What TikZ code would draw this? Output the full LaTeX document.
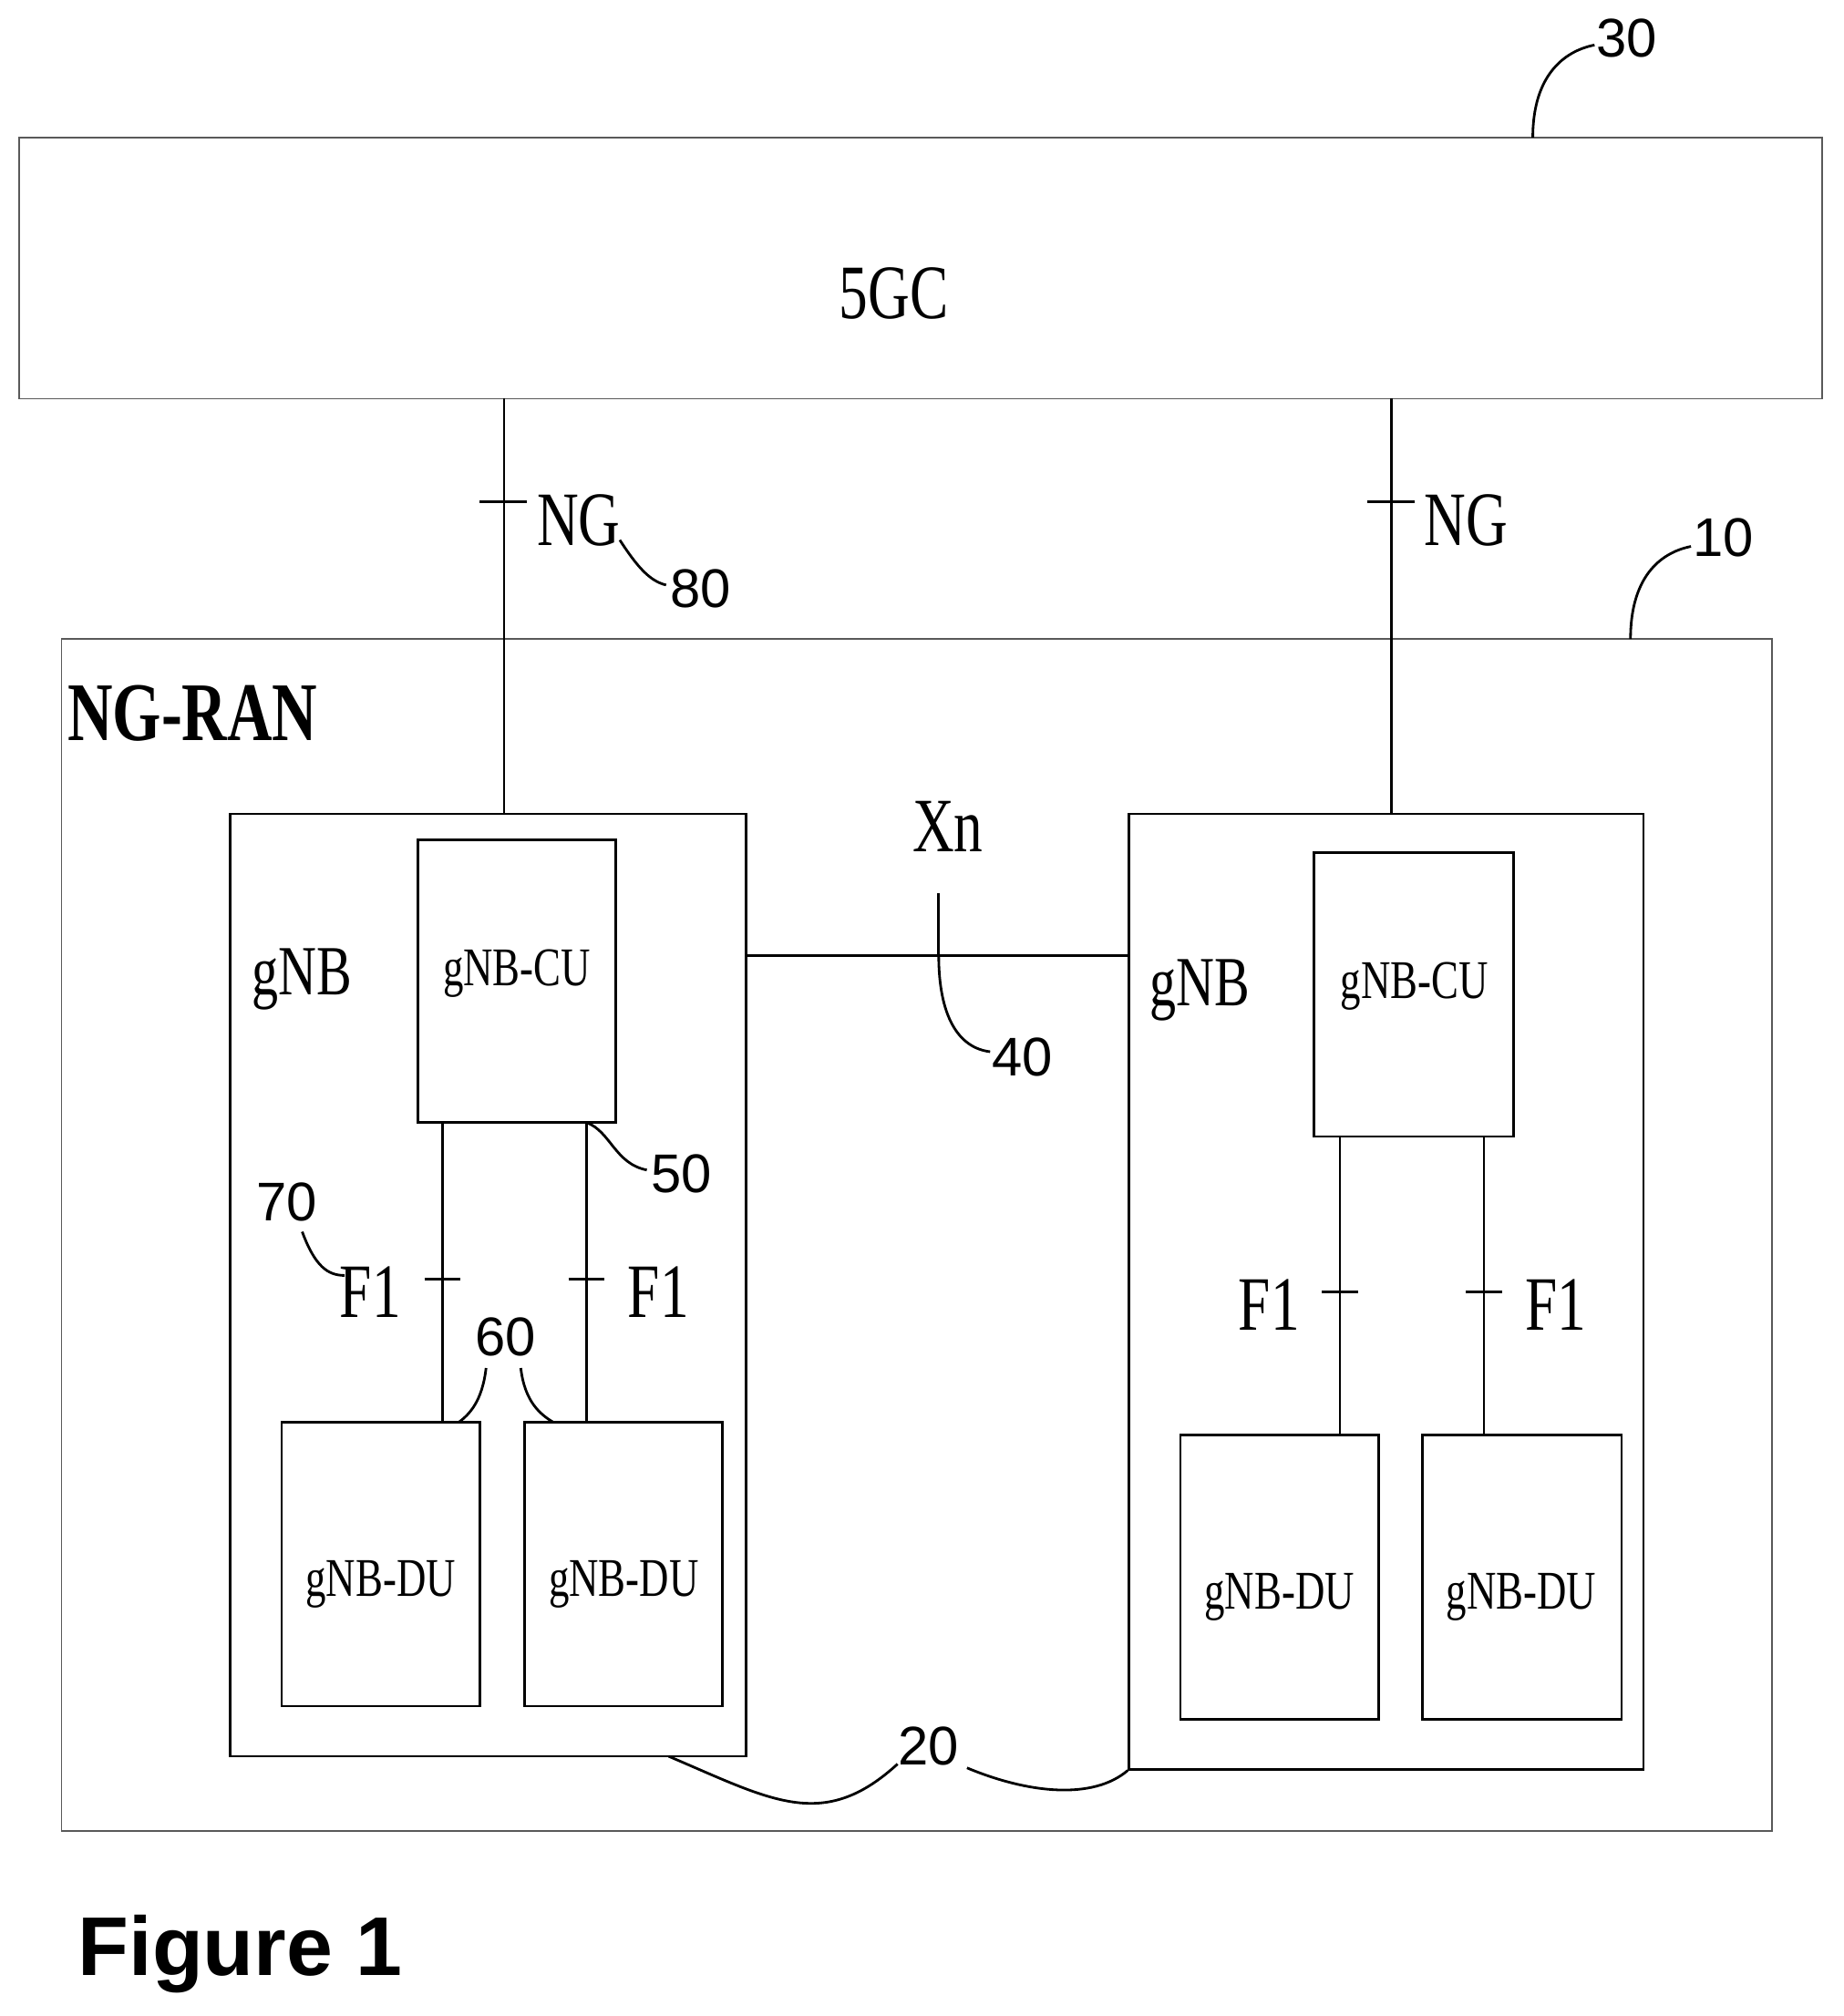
\documentclass[tikz,border=0pt]{standalone}
\usepackage{fontspec}
\setmainfont{Liberation Serif}
\newfontfamily\numfont{Liberation Sans}
\usetikzlibrary{fit}

\tikzset{
  box/.style={draw, thick, inner sep=0pt},
  frame/.style={draw, gray!70!black, inner sep=0pt},
  lbl/.style={font=\fontsize{24}{24}\selectfont, xscale=0.75},
  sublbl/.style={font=\fontsize{17}{17}\selectfont, xscale=0.75},
  num/.style={font=\numfont\fontsize{17}{17}\selectfont},
  lead/.style={thick},
  link/.style={thick}
}

\begin{document}
\begin{tikzpicture}[x=0.0141cm, y=-0.0141cm]
  \useasboundingbox (0,0) rectangle (1434,1568);

  % corners
  \coordinate (c1) at (15,107);   \coordinate (c2) at (1417,310);
  \coordinate (r1) at (48,497);   \coordinate (r2) at (1378,1424);
  \coordinate (gl1) at (179,633); \coordinate (gl2) at (580,1366);
  \coordinate (gr1) at (878,633); \coordinate (gr2) at (1278,1376);
  \coordinate (cul1) at (325,653);  \coordinate (cul2) at (479,873);
  \coordinate (cur1) at (1022,663); \coordinate (cur2) at (1177,884);
  \coordinate (dua1) at (219,1106); \coordinate (dua2) at (373,1327);
  \coordinate (dub1) at (408,1106); \coordinate (dub2) at (562,1327);
  \coordinate (duc1) at (918,1116); \coordinate (duc2) at (1072,1337);
  \coordinate (dud1) at (1106,1116); \coordinate (dud2) at (1261,1337);

  % boxes
  \node[frame, fit=(c1)(c2)] (core) {};
  \node[lbl] at (695,228) {5GC};
  \node[frame, fit=(r1)(r2)] (ran) {};
  \node[font=\bfseries\fontsize{26}{26}\selectfont, xscale=0.75, anchor=west] at (46,555) {NG-RAN};
  \node[box, fit=(gl1)(gl2)] (gnbL) {};
  \node[box, fit=(gr1)(gr2)] (gnbR) {};
  \node[box, fit=(cul1)(cul2)] (cuL) {};
  \node[box, fit=(cur1)(cur2)] (cuR) {};
  \node[box, fit=(dua1)(dua2)] (duA) {};
  \node[box, fit=(dub1)(dub2)] (duB) {};
  \node[box, fit=(duc1)(duc2)] (duC) {};
  \node[box, fit=(dud1)(dud2)] (duD) {};
  \node[sublbl] at (402,757) {gNB-CU};
  \node[sublbl] at (1100,767) {gNB-CU};
  \node[sublbl] at (296,1232) {gNB-DU};
  \node[sublbl] at (485,1232) {gNB-DU};
  \node[sublbl] at (995,1242) {gNB-DU};
  \node[sublbl] at (1183,1242) {gNB-DU};
  \node[lbl, font=\fontsize{22}{22}\selectfont] at (235,762) {gNB};
  \node[lbl, font=\fontsize{22}{22}\selectfont] at (933,770) {gNB};

  % NG links
  \coordinate (ngL) at (392,310);
  \coordinate (ngR) at (1082,310);
  \draw[link] (ngL) -- (ngL |- gnbL.north);
  \draw[link] (ngR) -- (ngR |- gnbR.north);
  \draw[link] (373,390) -- (410,390);
  \draw[link] (1063,390) -- (1100,390);
  \node[lbl] at (450,405) {NG};
  \node[lbl] at (1140,405) {NG};

  % Xn
  \coordinate (xn) at (730,743);
  \draw[link] (gnbL.east |- xn) -- (gnbR.west |- xn);
  \draw[link] (730,695) -- (xn);
  \node[lbl] at (737,643) {Xn};

  % F1 links
  \foreach \x in {344, 456} {
    \draw[link] (\x,873) -- (\x,1106);
    \draw[link] (\x-14,995) -- (\x+14,995);
  }
  \foreach \x in {1042, 1154} {
    \draw[link] (\x,884) -- (\x,1116);
    \draw[link] (\x-14,1005) -- (\x+14,1005);
  }
  \node[lbl] at (288,1005) {F1};
  \node[lbl] at (512,1005) {F1};
  \node[lbl] at (987,1015) {F1};
  \node[lbl] at (1210,1015) {F1};

  % reference numbers
  \node[num] (n30) at (1265,30) {30};
  \draw[lead] (1192,107) .. controls (1192,60) and (1215,40) .. (1240,35);
  \node[num] (n10) at (1340,418) {10};
  \draw[lead] (1268,497) .. controls (1268,450) and (1290,430) .. (1315,425);
  \node[num] (n80) at (545,458) {80};
  \draw[lead] (482,420) .. controls (495,440) and (505,452) .. (518,455);
  \node[num] (n40) at (795,822) {40};
  \draw[lead] (xn) .. controls (730,790) and (745,815) .. (770,818);
  \node[num] (n50) at (530,913) {50};
  \draw[lead] (456,873) .. controls (475,880) and (478,905) .. (503,910);
  \node[num] (n70) at (223,935) {70};
  \draw[lead] (235,958) .. controls (245,985) and (255,992) .. (268,992);
  \node[num] (n60) at (393,1040) {60};
  \draw[lead] (378,1064) .. controls (375,1090) and (365,1100) .. (357,1106);
  \draw[lead] (405,1064) .. controls (408,1090) and (420,1100) .. (430,1106);
  \node[num] (n20) at (722,1358) {20};
  \draw[lead] (520,1366) .. controls (600,1400) and (640,1425) .. (698,1372);
  \draw[lead] (gnbR.south west) .. controls (850,1400) and (800,1395) .. (752,1375);

  \node[font=\numfont\bfseries\fontsize{26}{26}\selectfont, anchor=west] at (52,1520) {Figure 1};
\end{tikzpicture}
\end{document}
